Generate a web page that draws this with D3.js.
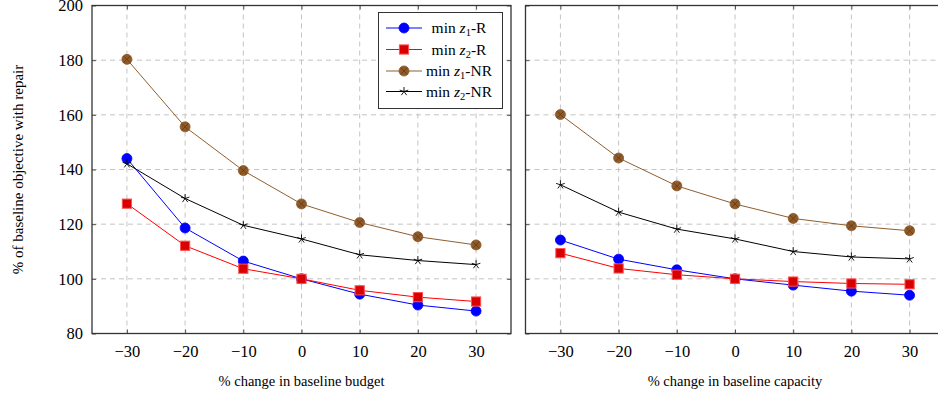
<!DOCTYPE html>
<html><head><meta charset="utf-8">
<script src="https://cdn.jsdelivr.net/npm/d3@7"></script>
<style>
html,body{margin:0;padding:0;background:#fff;}
svg{display:block;}
text{font-family:'Liberation Serif',serif;fill:#000;}
</style></head>
<body>
<svg id="chart" width="938" height="398"></svg>
<script>
const xValues = [-30, -20, -10, 0, 10, 20, 30];
const yTicks = [80, 100, 120, 140, 160, 180, 200];
const seriesNames = ["min z1-R", "min z2-R", "min z1-NR", "min z2-NR"];

// Left panel: % change in baseline budget
const budgetZ1R  = [144.0, 118.6, 106.5, 100.0, 94.4, 90.4, 88.2];
const budgetZ2R  = [127.5, 112.1, 103.7, 100.0, 95.8, 93.3, 91.7];
const budgetZ1NR = [180.3, 155.6, 139.6, 127.4, 120.6, 115.4, 112.4];
const budgetZ2NR = [142.1, 129.4, 119.6, 114.6, 108.8, 106.7, 105.2];

// Right panel: % change in baseline capacity
const capZ1R  = [114.2, 107.2, 103.3, 100.0, 97.7, 95.5, 94.0];
const capZ2R  = [109.4, 103.8, 101.5, 100.0, 99.0, 98.3, 98.0];
const capZ1NR = [160.1, 144.2, 134.0, 127.4, 122.1, 119.4, 117.6];
const capZ2NR = [134.4, 124.4, 118.2, 114.6, 110.0, 108.0, 107.3];

const xLabels = ["% change in baseline budget", "% change in baseline capacity"];
const yLabel = "% of baseline objective with repair";

const styles = [
  {color:"#0000ff", mark:"circle"},
  {color:"#ff0000", mark:"square"},
  {color:"#8f5e30", mark:"otimes"},
  {color:"#000000", mark:"star"}
];
const FONT = "'Liberation Serif', serif";

const svg = d3.select("#chart");
const plotTop = 5.5, plotBottom = 333.5;
const y = d3.scaleLinear().domain([80, 200]).range([plotBottom, plotTop]);

const panels = [
  {left: 92, right: 511, data: [budgetZ1R, budgetZ2R, budgetZ1NR, budgetZ2NR], label: xLabels[0], yLabels: true},
  {left: 525.5, right: 944.5, data: [capZ1R, capZ2R, capZ1NR, capZ2NR], label: xLabels[1], yLabels: false}
];

function drawMark(g, type, cx, cy, color) {
  if (type === "circle") {
    g.append("circle").attr("cx", cx).attr("cy", cy).attr("r", 5)
      .attr("fill", color).attr("stroke", color).attr("stroke-width", 0.8);
  } else if (type === "square") {
    g.append("rect").attr("x", cx - 4.6).attr("y", cy - 4.6).attr("width", 9.2).attr("height", 9.2)
      .attr("fill", "#d80000").attr("stroke", "#ff5050").attr("stroke-width", 1);
  } else if (type === "otimes") {
    g.append("circle").attr("cx", cx).attr("cy", cy).attr("r", 5)
      .attr("fill", "#8f5a28").attr("stroke", "#8a5a2c").attr("stroke-width", 0.8);
    const d = 3.4;
    g.append("path").attr("d", `M${cx-d},${cy-d}L${cx+d},${cy+d}M${cx-d},${cy+d}L${cx+d},${cy-d}`)
      .attr("stroke", "#5e3a18").attr("stroke-width", 0.8).attr("fill", "none");
  } else if (type === "star") {
    let p = "";
    for (let i = 0; i < 5; i++) {
      const a = -Math.PI / 2 + i * 2 * Math.PI / 5;
      p += `M${cx},${cy}L${cx + 4.5 * Math.cos(a)},${cy + 4.5 * Math.sin(a)}`;
    }
    g.append("path").attr("d", p).attr("stroke", color).attr("stroke-width", 0.9).attr("fill", "none");
  }
}

panels.forEach(pn => {
  const x = d3.scaleLinear().domain([-36, 36]).range([pn.left, pn.right]);
  const g = svg.append("g");

  g.selectAll(".vg").data(xValues).enter().append("line")
    .attr("x1", d => x(d)).attr("x2", d => x(d)).attr("y1", plotTop).attr("y2", plotBottom)
    .attr("stroke", "#c4c4c4").attr("stroke-width", 1).attr("stroke-dasharray", "5,4");
  g.selectAll(".hg").data(yTicks.slice(1, -1)).enter().append("line")
    .attr("x1", pn.left).attr("x2", pn.right).attr("y1", d => y(d)).attr("y2", d => y(d))
    .attr("stroke", "#c4c4c4").attr("stroke-width", 1).attr("stroke-dasharray", "5,4");

  const axB = d3.axisBottom(x).tickValues(xValues).tickSize(-4).tickPadding(12);
  const gB = g.append("g").attr("transform", `translate(0,${plotBottom})`).call(axB);
  const axT = d3.axisTop(x).tickValues(xValues).tickSize(-4).tickFormat("");
  const gT = g.append("g").attr("transform", `translate(0,${plotTop})`).call(axT);
  const axL = d3.axisLeft(y).tickValues(yTicks).tickSize(-4).tickPadding(9);
  if (!pn.yLabels) axL.tickFormat("");
  const gL = g.append("g").attr("transform", `translate(${pn.left},0)`).call(axL);
  const axR = d3.axisRight(y).tickValues(yTicks).tickSize(-4).tickFormat("");
  const gR = g.append("g").attr("transform", `translate(${pn.right},0)`).call(axR);
  [gB, gT, gL, gR].forEach(a => {
    a.attr("font-family", FONT);
    a.select(".domain").remove();
    a.selectAll(".tick line").attr("stroke", "#555").attr("stroke-width", 1);
    a.selectAll(".tick text").attr("font-size", 16.5).attr("font-family", FONT);
  });
  g.append("rect").attr("x", pn.left).attr("y", plotTop).attr("width", pn.right - pn.left).attr("height", plotBottom - plotTop)
    .attr("fill", "none").attr("stroke", "#333").attr("stroke-width", 1.3);

  const line = d3.line().x((d, i) => x(xValues[i])).y(d => y(d));
  pn.data.forEach((vals, k) => {
    const st = styles[k];
    g.append("path").datum(vals).attr("d", line).attr("fill", "none")
      .attr("stroke", st.color).attr("stroke-width", 1);
  });
  pn.data.forEach((vals, k) => {
    const st = styles[k];
    const mg = g.append("g");
    vals.forEach((v, i) => drawMark(mg, st.mark, x(xValues[i]), y(v), st.color));
  });

  g.append("text").attr("x", (pn.left + pn.right) / 2).attr("y", 386)
    .attr("text-anchor", "middle").attr("font-size", 14.5).attr("font-family", FONT).text(pn.label);
});

svg.append("text").attr("transform", `translate(23,${(plotTop + plotBottom) / 2}) rotate(-90)`)
  .attr("text-anchor", "middle").attr("font-size", 15).attr("font-family", FONT).text(yLabel);

const lg = svg.append("g");
lg.append("rect").attr("x", 378.5).attr("y", 12.5).attr("width", 124).attr("height", 96)
  .attr("fill", "#fff").attr("stroke", "#333").attr("stroke-width", 1);
const rowY = [28, 49.5, 71, 91.5];
seriesNames.forEach((name, k) => {
  const st = styles[k];
  lg.append("line").attr("x1", 386).attr("x2", 422).attr("y1", rowY[k]).attr("y2", rowY[k])
    .attr("stroke", st.color).attr("stroke-width", 1);
  drawMark(lg, st.mark, 404, rowY[k], st.color);
  const parts = name.match(/^min z(\d)-(.*)$/);
  const t = lg.append("text").attr("x", 459).attr("y", rowY[k] + 5).attr("text-anchor", "middle")
    .attr("font-size", 15.5).attr("font-family", FONT);
  t.append("tspan").text("min ");
  t.append("tspan").attr("font-style", "italic").text("z");
  t.append("tspan").attr("font-size", 10.5).attr("dy", 3).text(parts[1]);
  t.append("tspan").attr("dy", -3).text("-" + parts[2]);
});
</script>
</body></html>
